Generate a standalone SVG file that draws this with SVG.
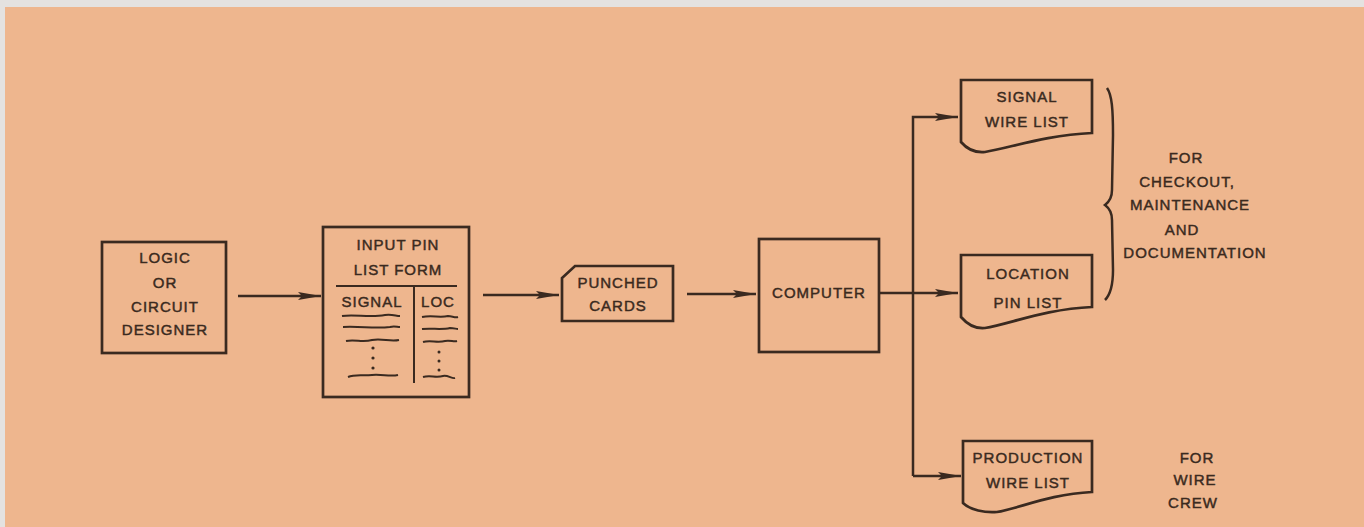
<svg xmlns="http://www.w3.org/2000/svg" width="1364" height="527" viewBox="0 0 1364 527">
<defs>
<marker id="ah" viewBox="0 0 23 10" refX="23" refY="5" markerWidth="23" markerHeight="10" markerUnits="userSpaceOnUse" orient="auto">
<path d="M0,1 L23,5 L0,9 L4,5 Z" fill="#3a2a20"/>
</marker>
<style>
.bg{fill:#eeb68e}
.ln{fill:none;stroke:#3a2a20;stroke-width:2.7;stroke-linejoin:miter}
.th{fill:none;stroke:#3a2a20;stroke-width:2}
.cn{fill:none;stroke:#3a2a20;stroke-width:2.5}
.dot{fill:#3a2a20}
text{font-family:"Liberation Sans",Arial,sans-serif;font-size:15px;fill:#3a2a20;stroke:#3a2a20;stroke-width:0.45;text-anchor:middle;letter-spacing:1px}
</style>
</defs>
<rect width="1364" height="527" fill="#e4e2e0"/>
<rect class="bg" x="5" y="7" width="1359" height="520"/>

<g id="connectors">
<path class="cn" d="M238,296 H321" marker-end="url(#ah)"/>
<path class="cn" d="M483,295 H559" marker-end="url(#ah)"/>
<path class="cn" d="M687,294 H756" marker-end="url(#ah)"/>
<path class="cn" d="M880,293 H958" marker-end="url(#ah)"/>
<path class="cn" d="M913,476 V117 H958" marker-end="url(#ah)"/>
<path class="cn" d="M913,476 H961" marker-end="url(#ah)"/>
</g>

<g id="logic-designer">
<rect class="ln" x="102" y="242" width="124" height="111"/>
<text x="165" y="263">LOGIC</text>
<text x="165" y="288">OR</text>
<text x="165" y="312">CIRCUIT</text>
<text x="165" y="335">DESIGNER</text>
</g>

<g id="input-pin-list-form">
<rect class="ln" x="323" y="227" width="146" height="170"/>
<text x="398" y="250">INPUT PIN</text>
<text x="398" y="275">LIST FORM</text>
<path class="th" d="M336,286 H457 M414,286 V383"/>
<text x="372" y="307">SIGNAL</text>
<text x="438" y="307">LOC</text>
<path class="th" d="M342,316 C355,314 370,318 385,315 C392,314 396,316 400,316"/>
<path class="th" d="M343,327 C360,326 375,329 390,327 C394,326 397,327 400,327"/>
<path class="th" d="M346,341 C356,339 362,343 372,340 C382,338 390,342 399,340"/>
<path class="th" d="M348,377 C355,374 362,376 372,375 C382,374 390,377 398,375"/>
<circle class="dot" cx="373" cy="348" r="1.6"/>
<circle class="dot" cx="373" cy="358" r="1.6"/>
<circle class="dot" cx="373" cy="368" r="1.6"/>
<path class="th" d="M422,317 C432,315 440,318 448,316 C452,316 455,318 458,317"/>
<path class="th" d="M422,329 C432,328 442,330 450,328 C454,328 456,329 458,329"/>
<path class="th" d="M423,342 C430,340 438,343 445,341 C450,340 454,342 457,341"/>
<path class="th" d="M423,377 C430,375 436,378 443,376 C448,375 452,379 455,378"/>
<circle class="dot" cx="439" cy="352" r="1.5"/>
<circle class="dot" cx="439" cy="361" r="1.5"/>
<circle class="dot" cx="439" cy="370" r="1.5"/>
</g>

<g id="punched-cards">
<path class="ln" d="M575,266 H673 V321 H562 V278 Z"/>
<text x="618" y="288">PUNCHED</text>
<text x="618" y="311">CARDS</text>
</g>

<g id="computer">
<rect class="ln" x="759" y="239" width="120" height="113"/>
<text x="819" y="298">COMPUTER</text>
</g>

<g id="signal-wire-list">
<path class="ln" d="M961,80 H1092 V133 C1045,135 1010,148 985,152 C975,153 967,149 961,142 Z"/>
<text x="1027" y="102">SIGNAL</text>
<text x="1027" y="127">WIRE LIST</text>
</g>

<g id="location-pin-list">
<path class="ln" d="M961,255 H1092 V307 C1045,309 1010,324 985,328 C975,329 967,324 961,317 Z"/>
<text x="1028" y="279">LOCATION</text>
<text x="1028" y="308">PIN LIST</text>
</g>

<g id="production-wire-list">
<path class="ln" d="M963,441 H1092 V492 C1050,494 1020,508 997,512 C985,513 970,510 963,503 Z"/>
<text x="1028" y="463">PRODUCTION</text>
<text x="1028" y="488">WIRE LIST</text>
</g>

<g id="brace">
<path class="cn" d="M1107,88 C1112,95 1113,110 1113,135 L1112,190 C1112,198 1109,202 1105,205 C1109,208 1112,212 1112,220 L1113,270 C1113,285 1110,295 1105,300"/>
</g>

<g id="note-checkout">
<text x="1186" y="163">FOR</text>
<text x="1187" y="187">CHECKOUT,</text>
<text x="1190" y="210">MAINTENANCE</text>
<text x="1182" y="235">AND</text>
<text x="1195" y="258">DOCUMENTATION</text>
</g>

<g id="note-wire-crew">
<text x="1197" y="463">FOR</text>
<text x="1195" y="485">WIRE</text>
<text x="1193" y="508">CREW</text>
</g>
</svg>
